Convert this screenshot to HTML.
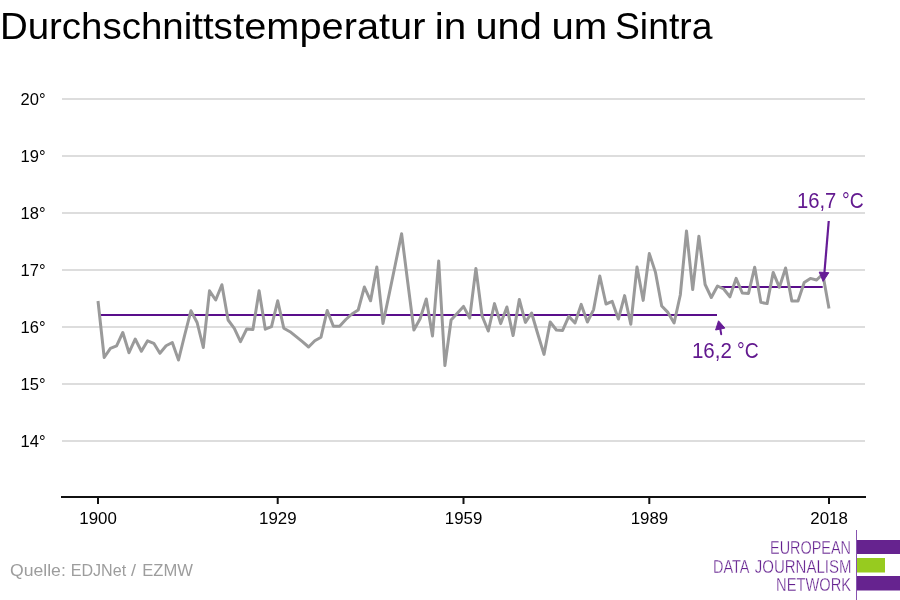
<!DOCTYPE html>
<html><head><meta charset="utf-8"><style>
html,body{margin:0;padding:0;background:#fff;}
body{width:900px;height:600px;overflow:hidden;position:relative;}
svg{position:absolute;left:0;top:0;will-change:transform;}
text{font-family:"Liberation Sans",sans-serif;}
.ax{font-size:16px;fill:#000;}
.title{font-size:37.5px;fill:#000;}
.ann{font-size:22.5px;fill:#62198f;}
.src{font-size:16px;fill:#9d9d9d;}
.logo{font-size:18.5px;fill:#64208f;stroke:#fff;stroke-width:0.35px;}
</style></head><body>
<svg width="900" height="600" viewBox="0 0 900 600">
<text x="-0.1" y="38.8" class="title" textLength="232.9" lengthAdjust="spacingAndGlyphs">Durchschnitts</text>
<text x="233.2" y="38.8" class="title" textLength="192.2" lengthAdjust="spacingAndGlyphs">temperatur</text>
<text x="434.8" y="38.8" class="title" textLength="31.5" lengthAdjust="spacingAndGlyphs">in</text>
<text x="475.5" y="38.8" class="title" textLength="66.2" lengthAdjust="spacingAndGlyphs">und</text>
<text x="551.5" y="38.8" class="title" textLength="55.8" lengthAdjust="spacingAndGlyphs">um</text>
<text x="615" y="38.8" class="title" textLength="97.4" lengthAdjust="spacingAndGlyphs">Sintra</text>
<line x1="62" y1="99" x2="865" y2="99" stroke="#dddddd" stroke-width="2"/>
<line x1="62" y1="156" x2="865" y2="156" stroke="#dddddd" stroke-width="2"/>
<line x1="62" y1="213" x2="865" y2="213" stroke="#dddddd" stroke-width="2"/>
<line x1="62" y1="270" x2="865" y2="270" stroke="#dddddd" stroke-width="2"/>
<line x1="62" y1="327" x2="865" y2="327" stroke="#dddddd" stroke-width="2"/>
<line x1="62" y1="384" x2="865" y2="384" stroke="#dddddd" stroke-width="2"/>
<line x1="62" y1="441" x2="865" y2="441" stroke="#dddddd" stroke-width="2"/>
<text x="45.6" y="105" text-anchor="end" class="ax" textLength="25" lengthAdjust="spacingAndGlyphs">20°</text>
<text x="45.6" y="162" text-anchor="end" class="ax" textLength="25" lengthAdjust="spacingAndGlyphs">19°</text>
<text x="45.6" y="219" text-anchor="end" class="ax" textLength="25" lengthAdjust="spacingAndGlyphs">18°</text>
<text x="45.6" y="276" text-anchor="end" class="ax" textLength="25" lengthAdjust="spacingAndGlyphs">17°</text>
<text x="45.6" y="333" text-anchor="end" class="ax" textLength="25" lengthAdjust="spacingAndGlyphs">16°</text>
<text x="45.6" y="390" text-anchor="end" class="ax" textLength="25" lengthAdjust="spacingAndGlyphs">15°</text>
<text x="45.6" y="447" text-anchor="end" class="ax" textLength="25" lengthAdjust="spacingAndGlyphs">14°</text>
<line x1="61" y1="497" x2="866" y2="497" stroke="#111" stroke-width="2"/>
<line x1="98.0" y1="497" x2="98.0" y2="504" stroke="#111" stroke-width="2"/>
<line x1="277.7" y1="497" x2="277.7" y2="504" stroke="#111" stroke-width="2"/>
<line x1="463.5" y1="497" x2="463.5" y2="504" stroke="#111" stroke-width="2"/>
<line x1="649.3" y1="497" x2="649.3" y2="504" stroke="#111" stroke-width="2"/>
<line x1="829.0" y1="497" x2="829.0" y2="504" stroke="#111" stroke-width="2"/>
<text x="98.1" y="524" text-anchor="middle" class="ax" textLength="37.5" lengthAdjust="spacingAndGlyphs">1900</text>
<text x="277.8" y="524" text-anchor="middle" class="ax" textLength="37.5" lengthAdjust="spacingAndGlyphs">1929</text>
<text x="463.6" y="524" text-anchor="middle" class="ax" textLength="37.5" lengthAdjust="spacingAndGlyphs">1959</text>
<text x="649.4" y="524" text-anchor="middle" class="ax" textLength="37.5" lengthAdjust="spacingAndGlyphs">1989</text>
<text x="829.1" y="524" text-anchor="middle" class="ax" textLength="37.5" lengthAdjust="spacingAndGlyphs">2018</text>
<line x1="100" y1="315" x2="717" y2="315" stroke="#590e8b" stroke-width="2"/>
<line x1="720" y1="287" x2="822.7" y2="287" stroke="#590e8b" stroke-width="2"/>
<polyline points="98.0,301.0 104.2,357.5 110.4,348.3 116.6,345.8 122.8,332.5 129.0,352.7 135.2,339.0 141.4,351.3 147.6,340.8 153.8,343.3 159.9,353.3 166.1,345.8 172.3,342.5 178.5,360.0 184.7,335.0 190.9,310.8 197.1,322.5 203.3,347.5 209.5,290.8 215.7,300.0 221.9,284.7 228.1,320.0 234.3,328.3 240.5,341.7 246.7,329.0 252.9,329.5 259.1,290.8 265.3,329.2 271.5,326.7 277.7,300.8 283.8,328.3 290.0,331.7 296.2,336.7 302.4,341.7 308.6,347.0 314.8,340.8 321.0,337.2 327.2,310.5 333.4,326.3 339.6,326.3 345.8,319.5 352.0,314.0 358.2,310.0 364.4,287.0 370.6,300.8 376.8,267.0 383.0,323.5 389.2,294.0 395.4,264.0 401.6,233.8 407.7,282.0 413.9,330.0 420.1,318.7 426.3,299.0 432.5,336.0 438.7,261.0 444.9,365.6 451.1,320.0 457.3,313.2 463.5,306.4 469.7,318.0 475.9,268.4 482.1,316.0 488.3,331.0 494.5,303.6 500.7,323.6 506.9,307.0 513.1,335.6 519.3,299.5 525.4,322.4 531.6,313.0 537.8,334.0 544.0,354.4 550.2,322.0 556.4,330.0 562.6,330.4 568.8,316.4 575.0,323.0 581.2,304.4 587.4,322.0 593.6,309.6 599.8,276.0 606.0,304.0 612.2,301.4 618.4,319.0 624.6,295.6 630.8,324.3 637.0,267.0 643.2,300.4 649.3,253.6 655.5,272.4 661.7,306.0 667.9,312.4 674.1,323.0 680.3,295.0 686.5,231.0 692.7,289.6 698.9,236.2 705.1,284.5 711.3,297.5 717.5,286.0 723.7,289.0 729.9,296.8 736.1,278.4 742.3,293.0 748.5,293.4 754.7,267.2 760.9,302.4 767.1,303.6 773.2,272.4 779.4,287.3 785.6,268.0 791.8,300.9 798.0,300.9 804.2,282.4 810.4,278.4 816.6,280.0 822.8,274.0 829.0,308.5" fill="none" stroke="#9a9a9a" stroke-width="3" stroke-linejoin="round" stroke-linecap="butt"/>
<line x1="828.75" y1="221" x2="824.3" y2="274" stroke="#661c96" stroke-width="2.2"/>
<polygon points="823.1,281.4 819.2,272.1 828.8,272.7" fill="#661c96" stroke="#661c96" stroke-width="1" stroke-linejoin="round"/>
<line x1="721.2" y1="334.2" x2="720" y2="327" stroke="#661c96" stroke-width="2" stroke-linecap="round"/>
<polygon points="718.5,320.8 715.6,330 724.9,328.1" fill="#661c96" stroke="#661c96" stroke-width="1" stroke-linejoin="round"/>
<text x="796.9" y="207.5" class="ann" textLength="39.4" lengthAdjust="spacingAndGlyphs">16,7</text>
<text x="842.1" y="207.5" class="ann" textLength="21.7" lengthAdjust="spacingAndGlyphs">°C</text>
<text x="691.9" y="357.8" class="ann" textLength="39.9" lengthAdjust="spacingAndGlyphs">16,2</text>
<text x="737.1" y="357.8" class="ann" textLength="21.7" lengthAdjust="spacingAndGlyphs">°C</text>
<text x="10" y="576" class="src" textLength="55.8" lengthAdjust="spacingAndGlyphs">Quelle:</text>
<text x="70.7" y="576" class="src" textLength="55.5" lengthAdjust="spacingAndGlyphs">EDJNet</text>
<text x="131.1" y="576" class="src" textLength="5" lengthAdjust="spacingAndGlyphs">/</text>
<text x="142.3" y="576" class="src" textLength="50.7" lengthAdjust="spacingAndGlyphs">EZMW</text>
<line x1="856.5" y1="530" x2="856.5" y2="600" stroke="#8753b0" stroke-width="1"/>
<rect x="857" y="540" width="43" height="14" fill="#66238f"/>
<rect x="857" y="558" width="28" height="14.5" fill="#97cb1f"/>
<rect x="857" y="576" width="43" height="14.5" fill="#66238f"/>
<text x="851" y="554.3" text-anchor="end" class="logo" textLength="81" lengthAdjust="spacingAndGlyphs">EUROPEAN</text>
<text x="713" y="572.6" class="logo" textLength="36.5" lengthAdjust="spacingAndGlyphs">DATA</text>
<text x="754.8" y="572.6" class="logo" textLength="96.6" lengthAdjust="spacingAndGlyphs">JOURNALISM</text>
<text x="851" y="590.6" text-anchor="end" class="logo" textLength="74.9" lengthAdjust="spacingAndGlyphs">NETWORK</text>
</svg>
</body></html>
